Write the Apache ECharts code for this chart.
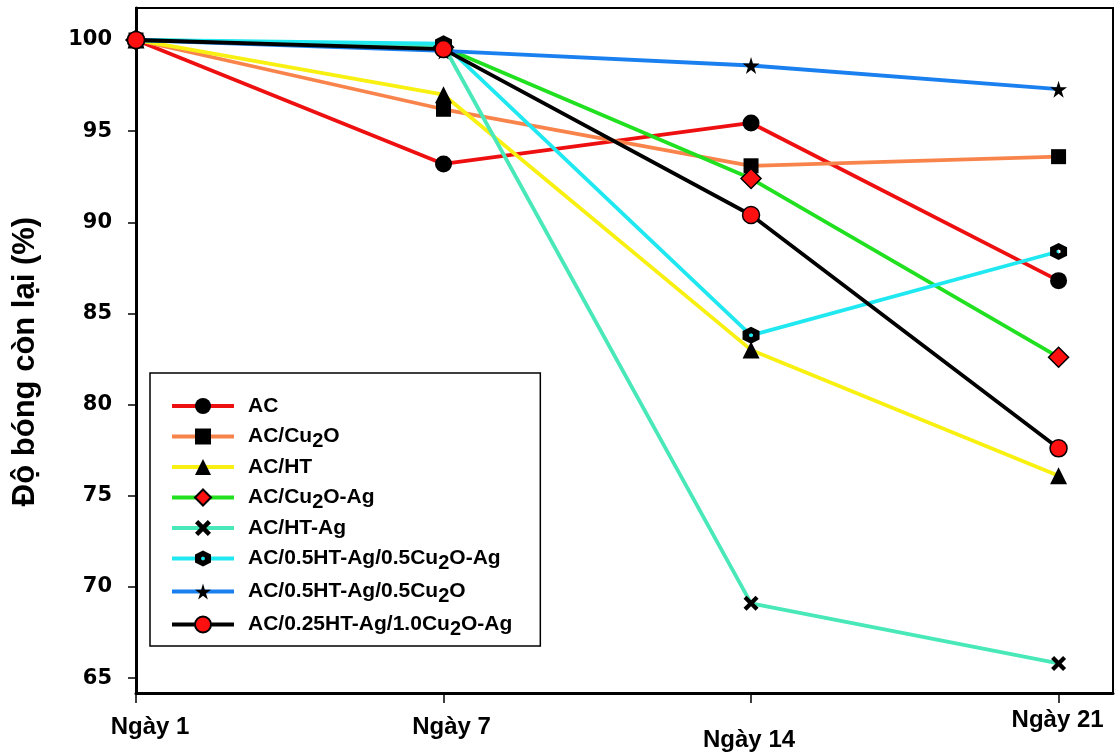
<!DOCTYPE html>
<html><head><meta charset="utf-8">
<script src="https://cdn.jsdelivr.net/npm/echarts@6/dist/echarts.min.js"></script>
<style>html,body{margin:0;padding:0;background:#fff}#c{width:1117px;height:756px}</style>
</head><body><div id="c"></div>
<script>
const categories = ['Ngày 1', 'Ngày 7', 'Ngày 14', 'Ngày 21'];
const yTicks = [65, 70, 75, 80, 85, 90, 95, 100];
const seriesNames = ['AC', 'AC/Cu2O', 'AC/HT', 'AC/Cu2O-Ag', 'AC/HT-Ag', 'AC/0.5HT-Ag/0.5Cu2O-Ag', 'AC/0.5HT-Ag/0.5Cu2O', 'AC/0.25HT-Ag/1.0Cu2O-Ag'];
const sAC = [100, 93.2, 95.45, 86.8];
const sACCu2O = [100, 96.2, 93.1, 93.6];
const sACHT = [100, 97.0, 83.0, 76.1];
const sACCu2OAg = [100, 99.6, 92.4, 82.6];
const sACHTAg = [100, 99.7, 69.1, 65.8];
const s05HTAg05Cu2OAg = [100, 99.8, 83.8, 88.4];
const s05HTAg05Cu2O = [100, 99.4, 98.6, 97.3];
const s025HTAg10Cu2OAg = [100, 99.5, 90.4, 77.6];
const seriesValues = [sAC, sACCu2O, sACHT, sACCu2OAg, sACHTAg, s05HTAg05Cu2OAg, s05HTAg05Cu2O, s025HTAg10Cu2OAg];

const lineColors = ['#ee1010', '#f8844c', '#f8f010', '#20e020', '#48e8b8', '#20e8f0', '#1a80f0', '#000000'];
const xPath = 'path://M2,0 L5,3 L8,0 L10,2 L7,5 L10,8 L8,10 L5,7 L2,10 L0,8 L3,5 L0,2 Z';
const starPath = 'path://M50,0 L61,35 L98,35 L68,57 L79,91 L50,70 L21,91 L32,57 L2,35 L39,35 Z';
const hexPath = 'path://M50,0 L93,25 L93,75 L50,100 L7,75 L7,25 Z M50,38 L40,44 L40,56 L50,62 L60,56 L60,44 Z';
const markers = [
  {symbol: 'circle', size: 17, color: '#000', border: '#000'},
  {symbol: 'rect', size: 15, color: '#000', border: '#000'},
  {symbol: 'triangle', size: 17, color: '#000', border: '#000'},
  {symbol: 'diamond', size: 20, color: '#ff1010', border: '#000'},
  {symbol: xPath, size: 15, color: '#000', border: '#000'},
  {symbol: hexPath, size: 17, color: '#000', border: '#000'},
  {symbol: starPath, size: 17, color: '#000', border: '#000'},
  {symbol: 'circle', size: 17, color: '#ff1010', border: '#000'}
];

const series = seriesNames.map((name, i) => ({
  name: name,
  type: 'line',
  data: seriesValues[i].map((v, j) => [j, v]),
  symbol: markers[i].symbol,
  symbolSize: markers[i].size,
  lineStyle: {color: lineColors[i], width: 3.8},
  itemStyle: {color: markers[i].color, borderColor: markers[i].border, borderWidth: (i === 3 || i === 7) ? 1.5 : 0},
  color: lineColors[i],
  emphasis: {disabled: true},
  animation: false
}));

const xFont = '"Liberation Sans", Arial, sans-serif';
const chart = echarts.init(document.getElementById('c'));
chart.setOption({
  backgroundColor: '#fff',
  animation: false,
  grid: {left: 136, right: 4, top: 8, bottom: 63, show: true, borderColor: '#000', borderWidth: 2, backgroundColor: 'transparent'},
  xAxis: {
    type: 'value', min: 0, max: 3.177,
    axisLine: {show: true, lineStyle: {color: '#000', width: 3}},
    axisTick: {show: true, customValues: [0, 1, 2, 3], length: 10, lineStyle: {color: '#000', width: 1.5}},
    splitLine: {show: false},
    axisLabel: {
      customValues: [0, 1, 2, 3],
      margin: 15,
      color: '#000',
      fontFamily: xFont, fontWeight: 'bold', fontSize: 24,
      formatter: v => '{p' + Math.round(v) + '|' + categories[Math.round(v)] + '}',
      rich: {
        p0: {padding: [7, 0, 0, 28], fontFamily: xFont, fontWeight: 'bold', fontSize: 24, color: '#000'},
        p1: {padding: [7, 0, 0, 16], fontFamily: xFont, fontWeight: 'bold', fontSize: 24, color: '#000'},
        p2: {padding: [20, 4, 0, 0], fontFamily: xFont, fontWeight: 'bold', fontSize: 24, color: '#000'},
        p3: {padding: [0, 2, 0, 0], fontFamily: xFont, fontWeight: 'bold', fontSize: 24, color: '#000'}
      }
    }
  },
  yAxis: {
    type: 'value', min: 64.18, max: 101.755,
    name: 'Độ bóng còn lại (%)', nameLocation: 'middle', nameGap: 95,
    nameTextStyle: {fontFamily: '"Liberation Sans", Arial, sans-serif', fontWeight: 'bold', fontSize: 31, color: '#000', padding: [0, 22, 0, 0]},
    axisLine: {show: true, lineStyle: {color: '#000', width: 3}},
    axisTick: {show: true, customValues: yTicks, length: 8, lineStyle: {color: '#000', width: 1.5}},
    splitLine: {show: false},
    axisLabel: {customValues: yTicks, margin: 24, color: '#000', fontFamily: '"DejaVu Sans", sans-serif', fontWeight: 'bold', fontSize: 21}
  },
  legend: {
    orient: 'vertical', left: 150, top: 373,
    data: seriesNames,
    borderColor: '#000', borderWidth: 1.5, borderRadius: 0,
    padding: [21, 28, 7, 20],
    itemWidth: 62, itemHeight: 20, itemGap: 4,
    lineStyle: {width: 4},
    selectedMode: false,
    formatter: name => name.replace(/Cu2O/g, 'Cu{sub|2}O'),
    textStyle: {
      fontFamily: '"Liberation Sans", Arial, sans-serif', fontWeight: 'bold', fontSize: 21, color: '#000',
      lineHeight: 24, padding: [0, 0, 0, 9],
      rich: {sub: {fontFamily: '"Liberation Sans", Arial, sans-serif', fontWeight: 'bold', fontSize: 20, color: '#000', padding: [9, 0, 0, 0], lineHeight: 24}}
    }
  },
  series: series
});
</script></body></html>
